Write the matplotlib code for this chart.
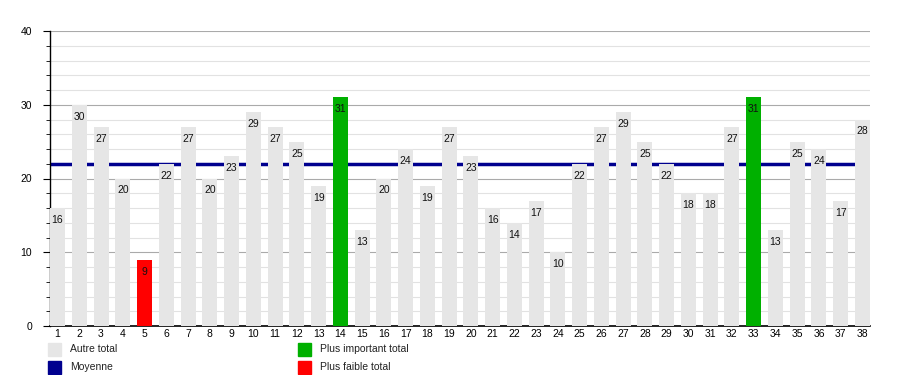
import matplotlib
matplotlib.use("Agg")
import matplotlib.pyplot as plt
from matplotlib.patches import Rectangle
import numpy as np

plt.rcParams['font.family'] = ['Liberation Sans', 'DejaVu Sans']

categories = [str(i) for i in range(1, 39)]
values = [16, 30, 27, 20, 9, 22, 27, 20, 23, 29, 27, 25, 19, 31, 13, 20, 24, 19, 27,
          23, 16, 14, 17, 10, 22, 27, 29, 25, 22, 18, 18, 27, 31, 13, 25, 24, 17, 28]
legend_labels = ["Autre total", "Moyenne", "Plus important total", "Plus faible total"]

c_other = "#e6e6e6"
c_mean = "#00008f"
c_max = "#00b000"
c_min = "#ff0000"

vmax = max(values)
vmin = min(values)
mean = float(np.mean(values))
colors = [c_max if v == vmax else (c_min if v == vmin else c_other) for v in values]

fig = plt.figure(figsize=(9, 3.75), dpi=100)
ax = fig.add_axes([50/900, 1-326/375, 820/900, 295/375])

x = np.arange(1, len(values) + 1)
w = 0.69
ax.bar(x, values, width=w, color=colors, zorder=3)
ax.axhline(mean, color=c_mean, lw=2.5, zorder=2)

for xi, v in zip(x, values):
    ax.annotate(str(v), (xi, v), xytext=(0, -5), textcoords='offset points',
                ha='center', va='top', fontsize=7.5, color='#111111', zorder=4)

ax.set_xlim(1 - w/2, len(values) + w/2)
ax.set_ylim(0, 40)
ax.set_yticks([0, 10, 20, 30, 40])
ax.set_yticks(np.arange(0, 41, 2), minor=True)
ax.set_xticks(x)
ax.set_xticklabels(categories)
ax.tick_params(axis='x', length=0, labelsize=7.5, pad=2)
ax.tick_params(axis='y', which='major', length=5, labelsize=7.5, pad=8)
ax.tick_params(axis='y', which='minor', length=3)
ax.grid(axis='y', which='major', color='#aaaaaa', lw=0.8, zorder=0)
ax.grid(axis='y', which='minor', color='#e2e2e2', lw=0.8, zorder=0)
for s in ['top', 'right']:
    ax.spines[s].set_visible(False)
ax.spines['left'].set_linewidth(1)
ax.spines['bottom'].set_linewidth(1.2)

leg_colors = [c_other, c_mean, c_max, c_min]
leg_pos = [(48, 343), (48, 361), (298, 343), (298, 361)]
for (px, py), col, lab in zip(leg_pos, leg_colors, legend_labels):
    fig.patches.append(Rectangle((px/900, 1-(py+13)/375), 13/900, 13/375,
                                 transform=fig.transFigure, color=col, figure=fig))
    fig.text((px+22)/900, 1-(py+6.5)/375, lab, fontsize=7.5, va='center', ha='left', color='#222222')

fig.savefig("out.png", dpi=100)
